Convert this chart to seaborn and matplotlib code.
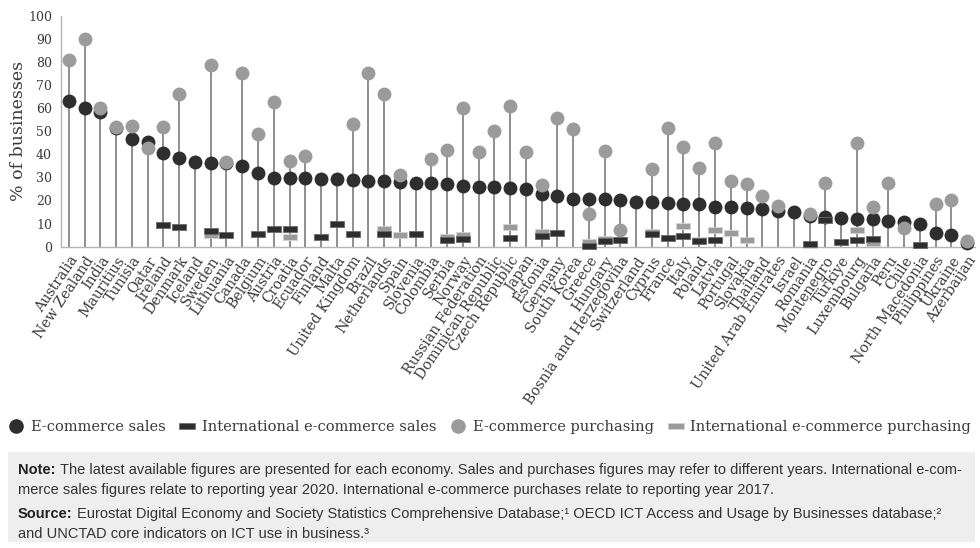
import numpy as np
import pandas as pd
import matplotlib
matplotlib.use("Agg")
import matplotlib.pyplot as plt
import seaborn as sns
from matplotlib.path import Path
from matplotlib.markers import MarkerStyle
from matplotlib.lines import Line2D
from matplotlib.patches import Rectangle

nan = np.nan

countries = [
    "Australia", "New Zealand", "India", "Mauritius", "Tunisia", "Qatar", "Ireland",
    "Denmark", "Iceland", "Sweden", "Lithuania", "Canada", "Belgium", "Austria",
    "Croatia", "Ecuador", "Finland", "Malta", "United Kingdom", "Brazil", "Netherlands",
    "Spain", "Slovenia", "Colombia", "Serbia", "Norway", "Russian Federation",
    "Dominican Republic", "Czech Republic", "Japan", "Estonia", "Germany", "South Korea",
    "Greece", "Hungary", "Bosnia and Herzegovina", "Switzerland", "Cyprus", "France",
    "Italy", "Poland", "Latvia", "Portugal", "Slovakia", "Thailand",
    "United Arab Emirates", "Israel", "Romania", "Montenegro", "Türkiye", "Luxembourg",
    "Bulgaria", "Peru", "Chile", "North Macedonia", "Philippines", "Ukraine", "Azerbaijan",
]

ecommerce_sales = [
    63.2, 60.2, 58.4, 51.5, 46.6, 45.5, 40.4, 38.6, 36.7, 36.4, 36.1, 34.9, 31.7, 29.9,
    29.8, 29.7, 29.5, 29.4, 28.9, 28.6, 28.3, 28.0, 27.7, 27.4, 27.2, 26.4, 26.0,
    25.9, 25.6, 24.8, 22.6, 21.8, 20.6, 20.5, 20.5, 20.4, 19.5, 19.4, 18.8,
    18.7, 18.3, 17.3, 17.3, 16.8, 16.3, 15.5, 15.1, 13.3, 13.0, 12.6, 12.2,
    12.1, 11.3, 10.5, 10.0, 5.8, 5.2, 1.6,
]

ecommerce_purchasing = [
    80.8, 89.8, 60.0, 52.0, 52.3, 42.8, 51.8, 66.0, nan, 78.6, 36.5, 75.0, 49.0, 62.8,
    37.0, 39.2, nan, nan, 53.0, 75.3, 66.2, 31.1, nan, 37.8, 41.8, 59.9, 41.1,
    50.0, 60.9, 40.8, 26.6, 55.7, 50.8, 14.2, 41.4, 7.4, nan, 33.8, 51.2,
    43.0, 33.9, 45.0, 28.4, 27.0, 21.8, 17.5, nan, 14.3, 27.7, nan, 45.0,
    17.4, 27.6, 8.3, nan, 18.4, 20.4, 2.6,
]

intl_sales = [
    nan, nan, nan, nan, nan, nan, 9.6, 8.4, nan, 6.9, 4.9, nan, 5.6, 7.7,
    7.7, nan, 4.3, 9.8, 5.6, nan, 5.6, nan, 5.6, nan, 3.0, 3.2, nan,
    nan, 3.6, nan, 4.6, 5.8, nan, 0.4, 2.6, 2.9, nan, 5.4, 3.6,
    4.8, 2.5, 2.9, nan, nan, nan, nan, nan, 1.1, 11.6, 2.2, 2.9,
    3.2, nan, nan, 0.8, nan, nan, nan,
]

intl_purchasing = [
    nan, nan, nan, nan, nan, nan, nan, nan, nan, 5.1, nan, nan, nan, nan,
    4.3, nan, nan, nan, nan, nan, 7.7, 5.1, nan, nan, 4.2, 5.0, nan,
    nan, 8.4, nan, 6.4, nan, nan, 2.1, 3.5, nan, nan, 6.4, nan,
    9.1, 3.1, 7.1, 5.9, 2.9, nan, nan, nan, 0.6, nan, nan, 7.1,
    1.5, nan, nan, nan, nan, nan, nan,
]

y_ticks = [0, 10, 20, 30, 40, 50, 60, 70, 80, 90, 100]

legend_labels = ["E-commerce sales", "International e-commerce sales",
                 "E-commerce purchasing", "International e-commerce purchasing"]

note_lines = [
    ("Note:", "The latest available figures are presented for each economy. Sales and "
              "purchases figures may refer to different years. International e-com-"),
    (None, "merce sales figures relate to reporting year 2020. International e-commerce "
           "purchases relate to reporting year 2017."),
    ("Source:", "Eurostat Digital Economy and Society Statistics Comprehensive Database;"
                "\u00b9 OECD ICT Access and Usage by Businesses database;\u00b2"),
    (None, "and UNCTAD core indicators on ICT use in business.\u00b3"),
]

df = pd.DataFrame({
    "country": countries,
    "sales": ecommerce_sales,
    "purchasing": ecommerce_purchasing,
    "intl_sales": intl_sales,
    "intl_purchasing": intl_purchasing,
})
df["stem_top"] = df[["sales", "purchasing"]].max(axis=1)

DARK = "#2e2e2e"
GREY = "#9b9b9b"
STEM = "#8e8e8e"
AXIS = "#b5b5b5"
TEXT = "#3a3a3a"
SERIF = ["DejaVu Serif"]

sns.set_theme(style="white")
plt.rcParams["font.family"] = ["DejaVu Sans"]

W, H = 980, 548
fig = plt.figure(figsize=(W / 100, H / 100), dpi=100)
ax = fig.add_axes([61 / W, 1 - 246.7 / H, (975 - 61) / W, (246.7 - 15.7) / H])

bar_marker = MarkerStyle(Path([(-1, -0.36), (1, -0.36), (1, 0.36), (-1, 0.36), (-1, -0.36)],
                              [Path.MOVETO, Path.LINETO, Path.LINETO, Path.LINETO, Path.CLOSEPOLY]))

DOT_S = 100
BAR_S = 115

sns.scatterplot(data=df, x="country", y="sales", ax=ax, color=DARK, s=DOT_S,
                edgecolor=DARK, linewidth=0, zorder=4, legend=False, clip_on=False)
ax.vlines(df["country"], 0, df["stem_top"], color=STEM, linewidth=1.4, zorder=2)
sns.scatterplot(data=df, x="country", y="purchasing", ax=ax, color=GREY, s=DOT_S,
                edgecolor=GREY, linewidth=0, zorder=5, legend=False, clip_on=False)
sns.scatterplot(data=df, x="country", y="intl_purchasing", ax=ax, color=GREY, s=BAR_S,
                marker=bar_marker, edgecolor="#d4d4d4", linewidth=0.6, zorder=6,
                legend=False, clip_on=False)
sns.scatterplot(data=df, x="country", y="intl_sales", ax=ax, color=DARK, s=BAR_S,
                marker=bar_marker, edgecolor="#6a6a6a", linewidth=0.6, zorder=7,
                legend=False, clip_on=False)

n = len(countries)
ax.set_xlim(-0.5, n - 0.5)
ax.set_ylim(0, 100)
ax.set_yticks(y_ticks)
ax.set_yticklabels([str(t) for t in y_ticks], fontsize=9, color=TEXT, family=SERIF)
ax.set_xticks(range(n))
ax.set_xticklabels(countries, rotation=56, ha="right", rotation_mode="anchor",
                   fontsize=10.2, color=TEXT, family=SERIF)
ax.set_xticks(np.arange(-0.5, n, 1.0), minor=True)
ax.tick_params(axis="x", which="major", length=0, pad=5)
ax.tick_params(axis="x", which="minor", length=6, width=0.9, color=AXIS, direction="inout")
ax.tick_params(axis="y", which="major", length=5, width=0.9, color=AXIS, direction="inout",
               pad=4)
ax.set_xlabel("")
ax.set_ylabel("% of businesses", fontsize=12.5, color=TEXT, family=SERIF)
ax.yaxis.set_label_coords(-0.037, 0.5)
for side in ["top", "right"]:
    ax.spines[side].set_visible(False)
for side in ["left", "bottom"]:
    ax.spines[side].set_color(AXIS)
    ax.spines[side].set_linewidth(1.0)

handles = [
    Line2D([], [], linestyle="none", marker="o", markersize=9.5, color=DARK),
    Line2D([], [], linestyle="none", marker=bar_marker, markersize=11, color=DARK,
           markeredgecolor="#6a6a6a", markeredgewidth=0.5),
    Line2D([], [], linestyle="none", marker="o", markersize=9.5, color=GREY),
    Line2D([], [], linestyle="none", marker=bar_marker, markersize=11, color=GREY,
           markeredgecolor="#d4d4d4", markeredgewidth=0.5),
]
fig.legend(handles, legend_labels, loc="center", bbox_to_anchor=(0.5, 1 - 427 / H), ncol=4,
           frameon=False, prop={"family": SERIF, "size": 10.5}, labelcolor=TEXT,
           handlelength=1.0, handletextpad=0.5, columnspacing=1.0, borderaxespad=0)

fig.patches.append(Rectangle((8 / W, 1 - 542 / H), (975 - 8) / W, (542 - 452) / H,
                             transform=fig.transFigure, facecolor="#eeeeee",
                             edgecolor="none", zorder=0))
NOTE_FONT = ["Liberation Sans Narrow", "Liberation Sans", "DejaVu Sans"]
fs = 10.5
x0_px = 18
renderer = fig.canvas.get_renderer()

for y_px, (bold, rest) in zip([477, 497, 521, 541], note_lines):
    y = 1 - y_px / H
    x_rest = x0_px
    if bold:
        t = fig.text(x0_px / W, y, bold, fontsize=fs, weight="bold", family=NOTE_FONT,
                     color="#222222", va="bottom", ha="left")
        bb = t.get_window_extent(renderer)
        x_rest = bb.x1 + 4
    fig.text(x_rest / W, y, rest, fontsize=fs, family=NOTE_FONT, color="#333333",
             va="bottom", ha="left")

fig.savefig("out.png", dpi=100)
